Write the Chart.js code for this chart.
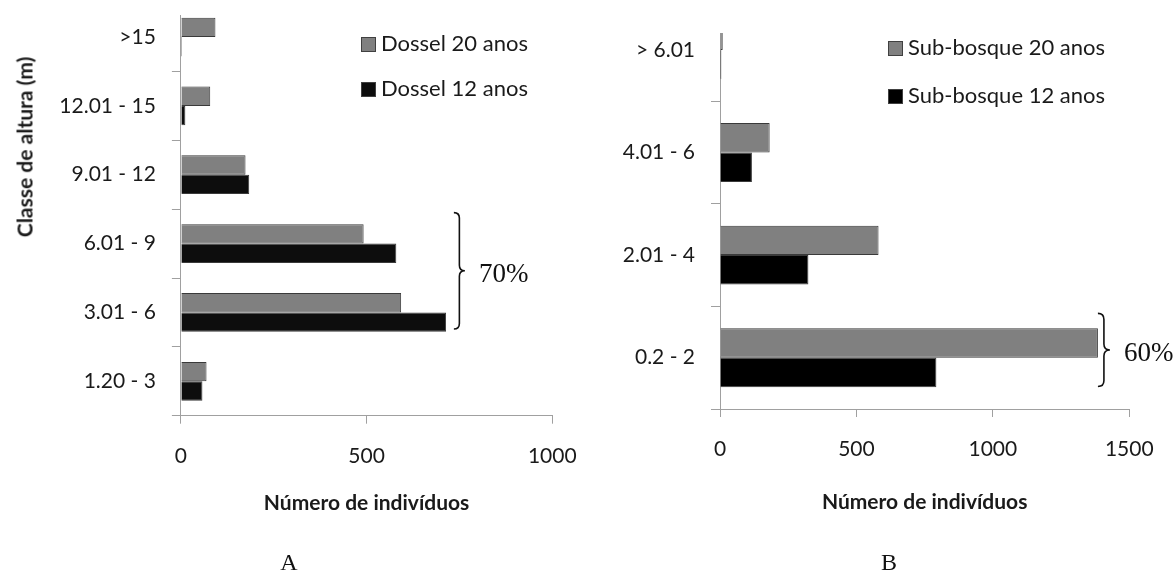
<!DOCTYPE html>
<html>
<head>
<meta charset="utf-8">
<script src="https://cdn.jsdelivr.net/npm/chart.js@4.4.1/dist/chart.umd.min.js"></script>
<style>
    body { margin: 0; background: #fff; width: 1174px; height: 577px; position: relative; overflow: hidden; font-family: Lato, sans-serif; }
    .wrap { position: absolute; overflow: hidden; }
    .wrap canvas { position: absolute; left: 0; }
    .leg { position: absolute; font-size: 22px; color: #1a1a1a; white-space: nowrap; line-height: 24px; }
    .leg span { display: inline-block; width: 13px; height: 13px; border: 1px solid #404040; margin-right: 5px; vertical-align: -1px; }
    .painel { position: absolute; font-family: "Liberation Serif", serif; font-size: 24px; color: #111; transform: translate(-50%, -50%); }
    .eixoY { position: absolute; font-size: 21px; font-weight: bold; color: #1a1a1a; white-space: nowrap;
             transform: translate(-50%, -50%) rotate(-90deg); }
</style>
</head>
<body>
<div class="wrap" style="left:0;top:15px;width:590px;height:562px"><canvas id="graficoA" width="620" height="600" style="top:-41px"></canvas></div>
<div class="wrap" style="left:590px;top:33px;width:584px;height:544px"><canvas id="graficoB" width="620" height="600" style="top:-63px"></canvas></div>

<div class="eixoY" style="left:24px;top:147px">Classe de altura (m)</div>

<div class="leg" style="left:361px;top:31px"><span style="background:#808080"></span>Dossel 20 anos</div>
<div class="leg" style="left:361px;top:76px"><span style="background:#0d0d0d"></span>Dossel 12 anos</div>
<div class="leg" style="left:888px;top:35px"><span style="background:#808080"></span>Sub-bosque 20 anos</div>
<div class="leg" style="left:888px;top:83px"><span style="background:#000"></span>Sub-bosque 12 anos</div>

<div class="painel" style="left:289px;top:562px">A</div>
<div class="painel" style="left:889px;top:562px">B</div>

<script>
// Dados (número de indivíduos por classe de altura)
const classesDossel = ['>15', '12.01 - 15', '9.01 - 12', '6.01 - 9', '3.01 - 6', '1.20 - 3'];
const dossel20 = [93, 79, 174, 492, 593, 69];
const dossel12 = [3, 12, 184, 580, 714, 58];

const classesSub = ['> 6.01', '4.01 - 6', '2.01 - 4', '0.2 - 2'];
const subBosque20 = [10, 182, 581, 1385];
const subBosque12 = [5, 117, 324, 793];

const fonte = { family: 'Lato', size: 21 };
const corTexto = '#1a1a1a';
const corEixo = '#a0a0a0';

// Desenha uma chave "}" e o texto ao lado
function desenharChave(ctx, x, topo, base, w, texto) {
    const meio = (topo + base) / 2, r = w / 2;
    ctx.save();
    ctx.strokeStyle = '#111';
    ctx.lineWidth = 1.6;
    ctx.beginPath();
    ctx.moveTo(x, topo);
    ctx.quadraticCurveTo(x + r, topo, x + r, topo + r);
    ctx.lineTo(x + r, meio - r);
    ctx.quadraticCurveTo(x + r, meio, x + w, meio);
    ctx.quadraticCurveTo(x + r, meio, x + r, meio + r);
    ctx.lineTo(x + r, base - r);
    ctx.quadraticCurveTo(x + r, base, x, base);
    ctx.stroke();
    ctx.fillStyle = '#111';
    ctx.font = '27px "Liberation Serif", serif';
    ctx.textBaseline = 'middle';
    ctx.fillText(texto, x + w + 14, meio + 4);
    ctx.restore();
}

function criarGrafico(id, classes, serie20, serie12, cor12, xMax, larguraY, percentual, chave) {
    return new Chart(document.getElementById(id), {
        type: 'bar',
        data: {
            labels: classes,
            datasets: [{
                label: '20 anos',
                data: serie20,
                backgroundColor: '#808080',
                borderColor: '#3a3a3a',
                borderWidth: 1
            }, {
                label: '12 anos',
                data: serie12,
                backgroundColor: cor12,
                borderColor: '#3a3a3a',
                borderWidth: 1
            }]
        },
        options: {
            indexAxis: 'y',
            responsive: false,
            animation: false,
            categoryPercentage: percentual,
            barPercentage: 1,
            layout: { padding: chave.padding },
            plugins: { legend: { display: false }, tooltip: { enabled: false } },
            scales: {
                x: {
                    min: 0,
                    max: xMax,
                    ticks: { stepSize: 500, color: corTexto, font: fonte, padding: 20, callback: v => String(v) },
                    grid: { drawOnChartArea: false, tickLength: 8, color: corEixo },
                    border: { color: corEixo, width: 1 },
                    title: { display: true, text: 'Número de indivíduos', color: corTexto,
                        font: { family: 'Lato', size: 21, weight: 'bold' }, padding: { top: 0, bottom: 0 } },
                    afterFit: s => { s.height = chave.alturaX; }
                },
                y: {
                    ticks: { color: corTexto, font: fonte, padding: 16 },
                    grid: { drawOnChartArea: false, tickLength: 9, color: corEixo, offset: true },
                    border: { color: corEixo, width: 1 },
                    afterFit: s => { s.width = larguraY; }
                }
            }
        },
        plugins: [{
            id: 'chave',
            afterDraw(chart) {
                const xs = chart.scales.x, ys = chart.scales.y;
                const topo = ys.getPixelForValue(chave.catTopo) + chave.dTopo;
                const base = ys.getPixelForValue(chave.catBase) + chave.dBase;
                desenharChave(chart.ctx, xs.getPixelForValue(chave.valor), topo, base, chave.w, chave.texto);
            }
        }]
    });
}

document.addEventListener('DOMContentLoaded', function() {
    // Gráfico A - dossel
    criarGrafico('graficoA', classesDossel, dossel20, dossel12, '#0d0d0d', 1000, 180.9, 0.5626, {
        padding: { top: 15, left: 0, right: 67.7, bottom: 58.3 },
        alturaX: 100,
        catTopo: 3, dTopo: -31, catBase: 4, dBase: 16.5,
        valor: 735, w: 11, texto: '70%'
    });

    // Gráfico B - sub-bosque
    criarGrafico('graficoB', classesSub, subBosque20, subBosque12, '#000000', 1500, 130, 0.5736, {
        padding: { top: 20.7, left: 0, right: 80.7, bottom: 55 },
        alturaX: 106,
        catTopo: 3, dTopo: -44.3, catBase: 3, dBase: 28.8,
        valor: 1385, w: 12, texto: '60%'
    });
});
</script>
</body>
</html>
